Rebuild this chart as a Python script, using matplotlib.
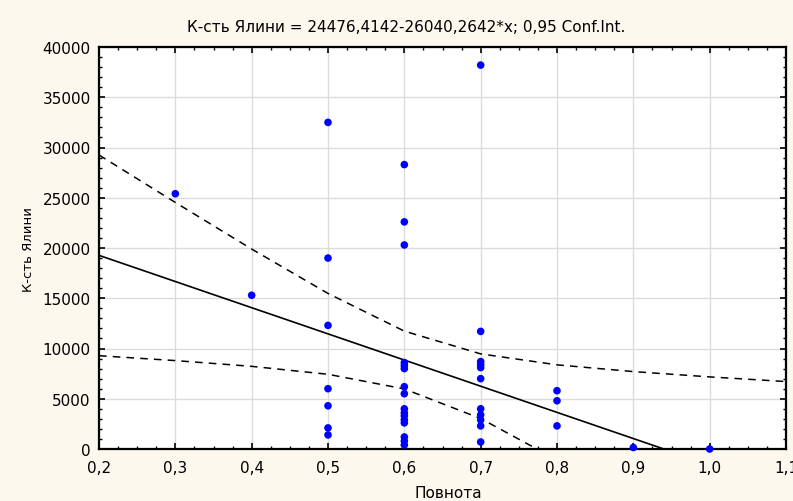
import numpy as np
import matplotlib
matplotlib.use("Agg")
import matplotlib.pyplot as plt
from matplotlib.ticker import MultipleLocator, FuncFormatter

# Data
x_vals = [0.3, 0.4,
          0.5, 0.5, 0.5, 0.5, 0.5, 0.5, 0.5,
          0.6, 0.6, 0.6, 0.6, 0.6, 0.6, 0.6, 0.6, 0.6, 0.6, 0.6, 0.6, 0.6, 0.6, 0.6, 0.6,
          0.7, 0.7, 0.7, 0.7, 0.7, 0.7, 0.7, 0.7, 0.7, 0.7, 0.7,
          0.8, 0.8, 0.8,
          0.9, 1.0]
y_vals = [25400, 15300,
          32500, 19000, 12300, 6000, 4300, 2100, 1400,
          28300, 22600, 20300, 8600, 8300, 8000, 6200, 5500, 4000, 3600, 3300, 2900, 2600, 1200, 800, 400,
          38200, 11700, 8700, 8400, 8100, 7000, 4000, 3400, 2900, 2300, 700,
          5800, 4800, 2300,
          150, 0]
intercept = 24476.4142
slope = -26040.2642
x_ticks = [0.2, 0.3, 0.4, 0.5, 0.6, 0.7, 0.8, 0.9, 1.0, 1.1]
y_ticks = [0, 5000, 10000, 15000, 20000, 25000, 30000, 35000, 40000]
title = "К-сть Ялини = 24476,4142-26040,2642*x; 0,95 Conf.Int."
xlabel = "Повнота"
ylabel = "К-сть Ялини"

x = np.array(x_vals)
y = np.array(y_vals)
n = len(x)
xm = x.mean()
sxx = ((x - xm) ** 2).sum()
resid = y - (intercept + slope * x)
s = np.sqrt((resid ** 2).sum() / (n - 2))
t = 2.023

xg = np.array(x_ticks)
fit = intercept + slope * xg
hw = t * s * np.sqrt(1.0 / n + (xg - xm) ** 2 / sxx)

bg = "#FDF8ED"
fig = plt.figure(figsize=(7.93, 5.02), dpi=100, facecolor=bg)
ax = fig.add_axes([99 / 793, 1 - 450 / 502, (786 - 99) / 793, (450 - 48) / 502])
ax.set_facecolor("white")

ax.grid(True, color="#DCDCDC", lw=1.0, zorder=0)
ax.plot(xg, fit, color="black", lw=1.2, zorder=3)
ax.plot(xg, fit + hw, color="black", lw=1.1, ls=(0, (5, 4)), zorder=3)
ax.plot(xg, fit - hw, color="black", lw=1.1, ls=(0, (5, 4)), zorder=3)
ax.scatter(x, y, s=30, color="#0000FF", edgecolors="none", zorder=4, clip_on=False)

ax.set_xlim(0.2, 1.1)
ax.set_ylim(0, 40000)
ax.set_xticks(x_ticks)
ax.set_yticks(y_ticks)
ax.xaxis.set_minor_locator(MultipleLocator(0.025))
ax.yaxis.set_minor_locator(MultipleLocator(1000))
ax.xaxis.set_major_formatter(FuncFormatter(lambda v, p: f"{v:.1f}".replace(".", ",")))
ax.yaxis.set_major_formatter(FuncFormatter(lambda v, p: f"{int(round(v))}"))
ax.tick_params(which="both", direction="in", top=True, right=True, colors="black",
               labelsize=11)
ax.tick_params(which="major", length=4, width=1.2)
ax.tick_params(which="minor", length=2.5, width=1.0)
ax.tick_params(axis="x", pad=8)
ax.tick_params(axis="y", pad=6)
for sp in ax.spines.values():
    sp.set_color("black")
    sp.set_linewidth(1.6)

fig.text(406 / 793, 1 - 28 / 502, title, ha="center", va="center", fontsize=11)
fig.text(448 / 793, 1 - 494 / 502, xlabel, ha="center", va="center", fontsize=11)
fig.text(28 / 793, 1 - 250 / 502, ylabel, ha="center", va="center", rotation=90, fontsize=9.5)

fig.savefig("out.png", dpi=100, facecolor=bg)
